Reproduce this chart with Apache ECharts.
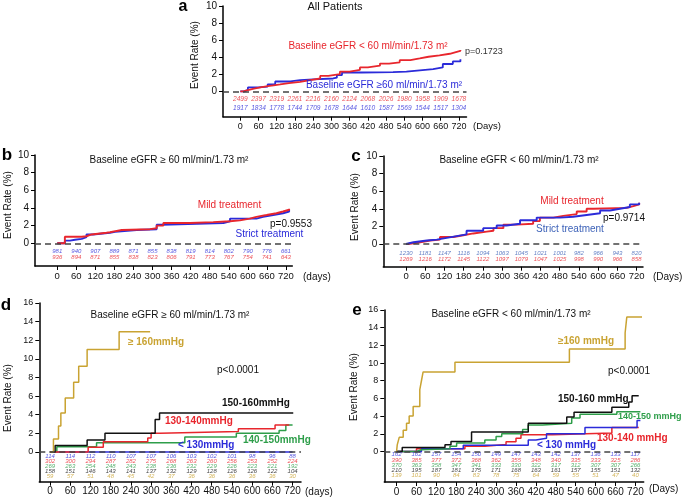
<!DOCTYPE html>
<html>
<head>
<meta charset="utf-8">
<script src="https://cdn.jsdelivr.net/npm/echarts@6/dist/echarts.min.js"></script>
<style>html,body{margin:0;padding:0;background:#fff}#c{width:685px;height:497px}</style>
</head>
<body>
<div id="c"></div>
<script>
// ---------- shared ----------
const DAYS = [0,60,120,180,240,300,360,420,480,540,600,660,720];
const Y10 = [0,2,4,6,8,10];
const Y16 = [0,2,4,6,8,10,12,14,16];

// ---------- panel a : all patients ----------
const aLow = [[0,0],[10,0.15],[25,0.3],[45,0.45],[66,0.6],[90,0.7],[110,0.8],[131,0.95],[160,1.1],[197,1.3],[230,1.5],[263,1.8],[290,2.0],[328,2.3],[360,2.5],[394,2.8],[420,3.0],[460,3.25],[490,3.4],[525,3.65],[560,3.85],[591,4.05],[620,4.2],[656,4.4],[690,4.6],[710,4.75],[725,4.85]];
const aHigh = [[0,0],[15,0.2],[25,0.45],[60,0.55],[90,0.8],[115,1.15],[165,1.3],[197,1.4],[240,1.5],[306,1.6],[318,1.9],[335,2.2],[400,2.25],[503,2.3],[547,2.45],[591,2.6],[635,2.8],[667,3.2],[700,3.5],[725,3.75]];
const aRiskLow = [2499,2397,2319,2261,2216,2160,2124,2068,2026,1980,1958,1909,1678];
const aRiskHigh = [1917,1834,1778,1744,1709,1678,1644,1610,1587,1569,1544,1517,1304];

// ---------- panel b : eGFR >= 60 ----------
const bMild = [[0,0],[24,0.75],[77,0.8],[92,1.0],[108,1.2],[155,1.25],[166,1.4],[187,1.5],[203,1.6],[292,1.7],[313,2.0],[334,2.3],[418,2.4],[491,2.5],[544,2.6],[575,2.8],[606,3.0],[627,3.2],[659,3.4],[690,3.6],[711,3.8],[730,3.9]];
const bStrict = [[0,0],[24,0.3],[40,0.4],[56,0.5],[77,0.7],[92,1.0],[113,1.2],[166,1.3],[182,1.5],[250,1.6],[313,2.1],[328,2.3],[523,2.5],[544,2.8],[627,3.0],[648,3.2],[680,3.4],[711,3.6],[730,3.8]];
const bRiskStrict = [981,940,907,889,871,855,838,819,814,802,790,776,661];
const bRiskMild = [936,894,871,855,838,823,806,791,773,767,754,741,643];

// ---------- panel c : eGFR < 60 ----------
const cMild = [[0,0],[7,0.2],[44,0.4],[75,0.5],[106,0.8],[148,1.0],[179,1.2],[210,1.4],[252,1.5],[273,1.8],[304,2.2],[345,2.3],[397,2.6],[418,3.0],[460,3.2],[491,3.4],[533,3.7],[564,4.0],[585,4.1],[689,4.3],[710,4.5],[728,4.7]];
const cStrict = [[0,0],[5,0.2],[23,0.4],[65,0.5],[96,0.7],[127,0.9],[158,1.1],[189,1.5],[241,1.8],[283,2.1],[314,2.3],[356,2.7],[408,3.0],[481,3.1],[522,3.3],[564,3.5],[606,3.8],[637,4.0],[668,4.2],[699,4.5],[728,4.7]];
const cRiskStrict = [1230,1181,1147,1116,1094,1063,1045,1021,1001,982,966,943,820];
const cRiskMild = [1269,1216,1172,1145,1122,1097,1079,1047,1025,998,990,966,858];

// ---------- panel d : eGFR >= 60 by SBP ----------
const dGe160 = [[0,0],[10,1.4],[25,2.8],[32,4.2],[45,5.8],[70,7.5],[85,9.2],[110,11.0],[205,12.9],[297,12.9]];
const d150 = [[0,0],[15,0.7],[110,1.3],[163,2.0],[312,3.5],[325,4.2],[722,4.2]];
const d130 = [[0,0],[113,0.5],[158,1.1],[290,1.5],[300,2.0],[326,2.2],[559,2.5],[668,2.9],[710,2.9]];
const d140 = [[0,0],[20,0.57],[138,1.0],[400,1.6],[553,2.0],[680,2.3],[700,2.9],[720,2.9]];
const dLt130 = [[0,0],[720,0]];
const dRiskLt130 = [114,114,112,110,107,107,106,103,102,101,98,96,88];
const dRisk130 = [302,300,294,287,282,275,268,263,260,256,253,252,224];
const dRisk140 = [269,263,254,248,243,238,236,232,229,226,223,221,192];
const dRisk150 = [158,151,146,143,141,137,132,129,128,126,126,122,104];
const dRisk160 = [59,57,51,48,45,42,37,36,36,36,36,36,30];

// ---------- panel e : eGFR < 60 by SBP ----------
const eGe160 = [[0,0],[2,0.75],[8,1.6],[20,2.4],[30,3.2],[38,4.0],[50,5.1],[70,7.0],[75,8.0],[80,9.0],[176,10.1],[521,11.6],[689,13.4],[694,15.2],[740,15.2]];
const e150 = [[0,0],[17,0.45],[146,0.75],[164,1.13],[226,2.2],[397,3.2],[513,3.9],[535,4.45],[649,5.0],[700,5.6],[710,6.3],[730,6.3]];
const e140 = [[0,0],[60,0.2],[75,0.3],[161,0.6],[181,0.95],[266,1.3],[300,1.7],[317,2.0],[380,2.5],[397,3.0],[440,3.2],[528,3.8],[553,4.2],[664,4.5],[735,4.5]];
const e130 = [[0,0],[60,0.3],[206,0.6],[266,0.8],[330,1.1],[360,1.5],[375,1.9],[470,2.1],[649,2.7],[730,2.7]];
const eLt130 = [[0,0],[75,0.3],[201,0.7],[397,1.3],[420,1.5],[452,2.0],[568,2.7],[725,3.5],[735,3.5]];
const eRiskLt130 = [162,162,157,154,150,149,147,143,142,137,136,133,117];
const eRisk130 = [390,385,377,372,368,362,355,348,340,335,333,325,286];
const eRisk140 = [370,363,358,347,341,333,330,322,317,312,307,307,266];
const eRisk150 = [210,195,187,181,175,171,168,163,161,157,155,151,132];
const eRisk160 = [139,101,90,84,83,78,75,64,59,55,51,47,40];

// ---------- colours ----------
const RED = '#e8262d', BLUE = '#2b2bd9', LBLUE = '#3d62b8', GOLD = '#c9a332', GREEN = '#2e9e4a', BLACK = '#111111';
const FONT = '"Liberation Sans", Arial, Helvetica, sans-serif';

const grids = [], xAxes = [], yAxes = [], series = [];

function addPanel(p) {
  const gi = grids.length;
  grids.push({left: p.left, right: p.right, top: p.top, bottom: p.bottom});
  xAxes.push({
    type: 'value', gridIndex: gi, min: p.xmin, max: p.xmax,
    axisLine: {onZero: false, lineStyle: {color: '#000', width: 1.5}},
    axisTick: {show: true, length: 4, customValues: DAYS, lineStyle: {color: '#000', width: 1}},
    axisLabel: {customValues: DAYS, fontSize: p.xfont, color: '#111', margin: 5, fontFamily: FONT, hideOverlap: false},
    splitLine: {show: false}
  });
  yAxes.push({
    type: 'value', gridIndex: gi, min: p.ymin, max: p.ymax,
    axisLine: {show: true, onZero: false, lineStyle: {color: '#000', width: 1.5}},
    axisTick: {show: true, length: 4, customValues: p.yticks, lineStyle: {color: '#000', width: 1}},
    axisLabel: {customValues: p.yticks, fontSize: p.yfont || 10, color: '#111', margin: 6, fontFamily: FONT},
    splitLine: {show: false}
  });
  series.push({
    type: 'line', xAxisIndex: gi, yAxisIndex: gi, data: [[0, 0]], symbol: 'none',
    lineStyle: {opacity: 0}, silent: true, z: 1,
    markLine: {silent: true, symbol: 'none', label: {show: false},
      lineStyle: {color: '#444', type: [6, 4], width: 1.5}, data: [{yAxis: 0}]}
  });
  p.curves.forEach(c => series.push({
    type: 'line', step: 'end', xAxisIndex: gi, yAxisIndex: gi, data: c.data,
    symbol: 'none', silent: true, z: 3,
    lineStyle: {color: c.color, width: p.lw}
  }));
  p.risk.forEach(r => series.push({
    type: 'scatter', xAxisIndex: gi, yAxisIndex: gi, silent: true, z: 4,
    data: DAYS.map((d, i) => [d, r.y, r.vals[i]]),
    symbolSize: 1, itemStyle: {color: 'rgba(0,0,0,0)'},
    labelLayout: {hideOverlap: false},
    label: {show: true, position: 'inside', formatter: q => String(q.data[2]),
      fontSize: p.riskFont, fontStyle: 'italic', color: r.color, fontFamily: FONT}
  }));
}

addPanel({left: 223, right: 218.5, top: 6, bottom: 380.3, xmin: -57, xmax: 745, ymin: -2.98, ymax: 10, yticks: Y10, xfont: 9, lw: 1.8, riskFont: 6.6,
  curves: [{data: aHigh, color: BLUE}, {data: aLow, color: RED}],
  risk: [{vals: aRiskLow, y: -0.94, color: RED}, {vals: aRiskHigh, y: -1.92, color: BLUE}]});

addPanel({left: 35, right: 392.7, top: 155, bottom: 231, xmin: -70, xmax: 740, ymin: -2.57, ymax: 10, yticks: Y10, xfont: 9.5, lw: 1.9, riskFont: 6,
  curves: [{data: bStrict, color: BLUE}, {data: bMild, color: RED}],
  risk: [{vals: bRiskStrict, y: -0.87, color: BLUE}, {vals: bRiskMild, y: -1.6, color: RED}]});

addPanel({left: 383.3, right: 42, top: 156, bottom: 230.3, xmin: -71, xmax: 740, ymin: -2.58, ymax: 10, yticks: Y10, xfont: 9.5, lw: 1.9, riskFont: 6,
  curves: [{data: cMild, color: RED}, {data: cStrict, color: BLUE}],
  risk: [{vals: cRiskStrict, y: -1.06, color: LBLUE}, {vals: cRiskMild, y: -1.7, color: RED}]});

addPanel({left: 39.3, right: 384, top: 303, bottom: 15.3, xmin: -32, xmax: 745, ymin: -3.19, ymax: 16, yticks: Y16, yfont: 9, xfont: 10, lw: 1.5, riskFont: 6,
  curves: [{data: dLt130, color: BLUE}, {data: d140, color: GREEN}, {data: d130, color: RED}, {data: d150, color: BLACK}, {data: dGe160, color: GOLD}],
  risk: [{vals: dRiskLt130, y: -0.43, color: BLUE}, {vals: dRisk130, y: -0.97, color: RED}, {vals: dRisk140, y: -1.54, color: GREEN},
         {vals: dRisk150, y: -2.1, color: BLACK}, {vals: dRisk160, y: -2.65, color: GOLD}]});

addPanel({left: 384.3, right: 41.3, top: 310, bottom: 14.7, xmin: -37, xmax: 745, ymin: -3.45, ymax: 16, yticks: Y16, yfont: 9, xfont: 10, lw: 1.5, riskFont: 6,
  curves: [{data: e130, color: RED}, {data: eLt130, color: BLUE}, {data: e140, color: GREEN}, {data: e150, color: BLACK}, {data: eGe160, color: GOLD}],
  risk: [{vals: eRiskLt130, y: -0.37, color: BLUE}, {vals: eRisk130, y: -0.97, color: RED}, {vals: eRisk140, y: -1.58, color: GREEN},
         {vals: eRisk150, y: -2.18, color: BLACK}, {vals: eRisk160, y: -2.74, color: GOLD}]});

// ---------- annotations ----------
function t(text, x, y, color, font, align, rot) {
  return {type: 'text', x: x, y: y, rotation: rot || 0, silent: true, z: 10,
    style: {text: text, fill: color, font: font + ' ' + FONT, align: align || 'center', verticalAlign: 'middle'}};
}
const graphics = [
  t('a', 183, 7, '#000', 'bold 16px'),
  t('All Patients', 335, 7, '#111', '11px'),
  t('Baseline eGFR < 60 ml/min/1.73 m²', 368, 46, RED, '10px'),
  t('p=0.1723', 465, 52, '#333', '9px', 'left'),
  t('Baseline eGFR ≥60 ml/min/1.73 m²', 384, 85, BLUE, '10px'),
  t('Event Rate (%)', 195, 55, '#111', '10px', 'center', Math.PI / 2),
  t('(Days)', 473, 126, '#111', '9.5px', 'left'),

  t('b', 7, 155, '#000', 'bold 17px'),
  t('Baseline eGFR ≥ 60 ml/min/1.73 m²', 169, 160, '#111', '10px'),
  t('Mild treatment', 229.5, 205, RED, '10px'),
  t('p=0.9553', 270, 224, '#111', '10px', 'left'),
  t('Strict treatment', 269.5, 234, BLUE, '10px'),
  t('Event Rate (%)', 8, 205, '#111', '10px', 'center', Math.PI / 2),
  t('(days)', 303, 277, '#111', '10px', 'left'),

  t('c', 356, 156, '#000', 'bold 17px'),
  t('Baseline eGFR < 60 ml/min/1.73 m²', 519, 160, '#111', '10px'),
  t('Mild treatment', 572, 201, RED, '10px'),
  t('p=0.9714', 603, 218, '#111', '10px', 'left'),
  t('Strict treatment', 570, 229, LBLUE, '10px'),
  t('Event Rate (%)', 355, 207, '#111', '10px', 'center', Math.PI / 2),
  t('(Days)', 653, 277, '#111', '10px', 'left'),

  t('d', 6, 305, '#000', 'bold 17px'),
  t('Baseline eGFR ≥ 60 ml/min/1.73 m²', 170, 315, '#111', '10px'),
  t('≥ 160mmHg', 128, 342, GOLD, 'bold 10px', 'left'),
  t('p<0.0001', 217, 370, '#111', '10px', 'left'),
  t('150-160mmHg', 222, 403, BLACK, 'bold 10px', 'left'),
  t('130-140mmHg', 165, 421, RED, 'bold 10px', 'left'),
  t('140-150mmHg', 243, 440, GREEN, 'bold 10px', 'left'),
  t('< 130mmHg', 178, 445, BLUE, 'bold 10px', 'left'),
  t('Event Rate (%)', 8, 398, '#111', '10px', 'center', Math.PI / 2),
  t('(days)', 305, 492, '#111', '10px', 'left'),

  t('e', 357, 310, '#000', 'bold 17px'),
  t('Baseline eGFR < 60 ml/min/1.73 m²', 511, 314, '#111', '10px'),
  t('≥160 mmHg', 558, 341, GOLD, 'bold 10px', 'left'),
  t('p<0.0001', 608, 371, '#111', '10px', 'left'),
  t('150-160 mmHg', 558, 399, BLACK, 'bold 10px', 'left'),
  t('140-150 mmHg', 618, 417, GREEN, 'bold 9px', 'left'),
  t('130-140 mmHg', 597, 438, RED, 'bold 10px', 'left'),
  t('< 130 mmHg', 537, 445, BLUE, 'bold 10px', 'left'),
  t('Event Rate (%)', 354, 387, '#111', '10px', 'center', Math.PI / 2),
  t('(Days)', 649, 489, '#111', '10px', 'left')
];

const chart = echarts.init(document.getElementById('c'), null, {renderer: 'canvas'});
chart.setOption({
  animation: false,
  backgroundColor: '#fff',
  textStyle: {fontFamily: FONT},
  grid: grids, xAxis: xAxes, yAxis: yAxes, series: series,
  graphic: graphics
});
</script>
</body>
</html>
